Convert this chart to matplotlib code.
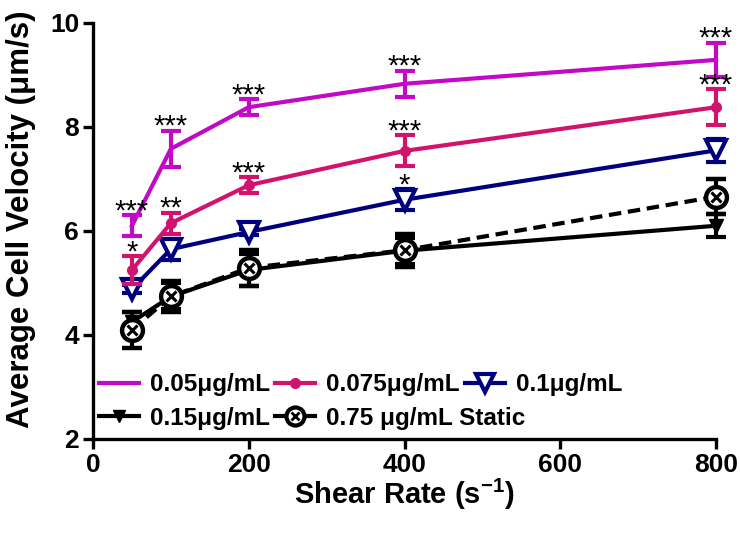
import numpy as np
import matplotlib
matplotlib.use("Agg")
import matplotlib.pyplot as plt
from matplotlib.lines import Line2D

plt.rcParams['font.family'] = ['Liberation Sans', 'DejaVu Sans']
plt.rcParams['font.weight'] = 'bold'
plt.rcParams['mathtext.fontset'] = 'custom'
plt.rcParams['mathtext.bf'] = 'Liberation Sans:bold'
plt.rcParams['mathtext.rm'] = 'Liberation Sans:bold'

# Shear rates (s^-1)
shear = [50, 100, 200, 400, 800]

# Mean velocity and error for each concentration
v_005 = [6.10, 7.58, 8.38, 8.83, 9.29]
e_005 = [0.20, 0.35, 0.15, 0.25, 0.33]
v_0075 = [5.25, 6.15, 6.88, 7.54, 8.38]
e_0075 = [0.27, 0.20, 0.15, 0.30, 0.35]
v_01 = [4.88, 5.65, 5.98, 6.60, 7.55]
e_01 = [0.08, 0.20, 0.06, 0.20, 0.22]
v_015 = [4.25, 4.74, 5.25, 5.62, 6.10]
e_015 = [0.20, 0.25, 0.30, 0.25, 0.22]
v_static = [4.10, 4.74, 5.29, 5.63, 6.66]
e_static = [0.35, 0.29, 0.34, 0.32, 0.33]

labels = ['0.05\u03bcg/mL', '0.075\u03bcg/mL', '0.1\u03bcg/mL',
          '0.15\u03bcg/mL', '0.75 \u03bcg/mL Static']

# significance stars above each point
stars_005 = ['***', '***', '***', '***', '***']
stars_0075 = ['*', '**', '***', '***', '***']
stars_01 = ['', '', '', '*', '']

c_005 = '#c209c6'
c_0075 = '#d2136e'
c_01 = '#00007e'
c_blk = 'black'

fig = plt.figure(figsize=(7.4, 5.35), dpi=100)
ax = fig.add_axes([0.1257, 0.1795, 0.8419, 0.7776])

lw = 3.0
kw = dict(capsize=7, capthick=3, elinewidth=3, linewidth=lw)

bars = []
bars.append(ax.errorbar(shear, v_015, yerr=e_015, color=c_blk, marker='v',
                        markersize=10, zorder=3, **kw))
bars.append(ax.errorbar(shear, v_static, yerr=e_static, color=c_blk, marker='o',
                        markersize=15, markerfacecolor='white', markeredgewidth=3.2,
                        linestyle=(0, (3, 1.6)), zorder=3, **kw))
ax.plot(shear, v_static, linestyle='none', marker='x', markersize=7,
        markeredgewidth=2.2, color=c_blk, zorder=3.5, clip_on=False)
bars.append(ax.errorbar(shear, v_01, yerr=e_01, color=c_01, marker='v',
                        markersize=15, markerfacecolor='white', markeredgewidth=3,
                        zorder=4, **kw))
bars.append(ax.errorbar(shear, v_0075, yerr=e_0075, color=c_0075, marker='o',
                        markersize=7, zorder=5, **kw))
bars.append(ax.errorbar(shear, v_005, yerr=e_005, color=c_005, marker='none',
                        zorder=6, **kw))
for b in bars:
    for art in b.lines[0:1] + tuple(b.lines[1]) + tuple(b.lines[2]):
        art.set_clip_on(False)

for vals, errs, st in [(v_005, e_005, stars_005), (v_0075, e_0075, stars_0075),
                       (v_01, e_01, stars_01)]:
    for x, v, e, s in zip(shear, vals, errs, st):
        if s:
            ax.annotate(s, (x, v + e), xytext=(0, -3), textcoords='offset points',
                        ha='center', va='baseline', fontsize=21,
                        fontweight='normal', color='black', zorder=7,
                        annotation_clip=False)

ax.set_xlim(0, 800)
ax.set_ylim(2, 10)
ax.set_xticks([0, 200, 400, 600, 800])
ax.set_yticks([2, 4, 6, 8, 10])
ax.spines['top'].set_visible(False)
ax.spines['right'].set_visible(False)
for sp in ['left', 'bottom']:
    ax.spines[sp].set_linewidth(2.4)
ax.tick_params(width=2.4, length=7, labelsize=19, direction='out', pad=3)
for t in ax.get_xticklabels() + ax.get_yticklabels():
    t.set_fontweight('bold')

ax.set_xlabel('Shear Rate (s$^{\\mathbf{-1}}$)', fontsize=21, fontweight='bold')
ax.xaxis.set_label_coords(0.5, -0.09)
ax.set_ylabel('Average Cell Velocity (\u03bcm/s)', fontsize=22.5, fontweight='bold')
ax.yaxis.set_label_coords(-0.092, 0.527)

# legend handles (line + marker only, no error bars)
h_005 = Line2D([], [], color=c_005, lw=lw)
h_0075 = Line2D([], [], color=c_0075, lw=lw, marker='o', markersize=7)
h_01 = Line2D([], [], color=c_01, lw=lw, marker='v', markersize=13,
              markerfacecolor='white', markeredgewidth=3)
h_015 = Line2D([], [], color=c_blk, lw=lw, marker='v', markersize=9)
h_st_o = Line2D([], [], color=c_blk, lw=lw, marker='o', markersize=13,
                markerfacecolor='white', markeredgewidth=3)
h_st_x = Line2D([], [], color=c_blk, lw=0, marker='x', markersize=6,
                markeredgewidth=2)

leg_kw = dict(frameon=False, fontsize=17.5, handlelength=1.65, handletextpad=0.45,
              columnspacing=0.2, borderaxespad=0, borderpad=0, loc='center left')
leg1 = ax.legend([h_005, h_0075, h_01], labels[:3], ncol=3,
                 bbox_to_anchor=(0.01, 0.13), **leg_kw)
ax.add_artist(leg1)
leg2 = ax.legend([h_015, (h_st_o, h_st_x)], labels[3:], ncol=2,
                 bbox_to_anchor=(0.01, 0.05), **leg_kw)
for lg in (leg1, leg2):
    for t in lg.get_texts():
        t.set_fontweight('bold')

fig.savefig('out.png', dpi=100)
